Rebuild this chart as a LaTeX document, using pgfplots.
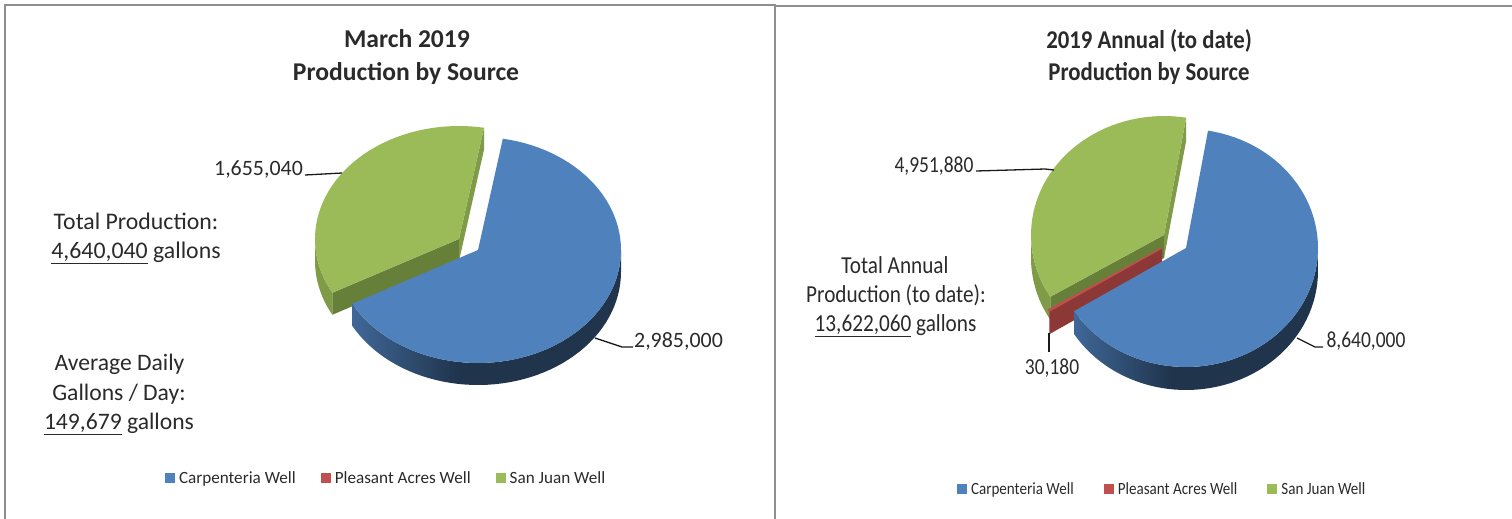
\documentclass[border=0pt]{standalone}
\usepackage{fontspec}
\setmainfont{Carlito}
\usepackage{pgfplots}
\usepackage{pgfplotstable}
\usepackage{graphicx}
\pgfplotsset{compat=1.18}

% Production per source, in thousands of gallons
\pgfplotstableread{
source        kgal
Carpenteria   2985.000
PleasantAcres 0.000
SanJuan       1655.040
}\marchvalues
\pgfplotstableread{
source        kgal
Carpenteria   8640.000
PleasantAcres 30.180
SanJuan       4951.880
}\annualvalues

\definecolor{carp}{HTML}{4F81BD}
\definecolor{pleasant}{HTML}{C0504D}
\definecolor{sanjuan}{HTML}{9BBB59}
\definecolor{sjdark}{HTML}{66803A}
\definecolor{sjside}{HTML}{7F9B47}
\definecolor{pldark}{HTML}{8C3836}
\definecolor{frameline}{HTML}{8E8E8E}
\definecolor{leader}{HTML}{1A1A1A}
\definecolor{textcol}{HTML}{2A2A2A}

% Rim of the blue wedge: lit at its left end, dark from about 40% of its width on
\pgfdeclarehorizontalshading{carprim}{100bp}{
  color(0bp)=(carp!80!black); color(25bp)=(carp!80!black);
  color(45bp)=(carp!40!black); color(100bp)=(carp!40!black)}

% Appends points of an elliptical arc: cx, cy, rx, ry, from, to
\newcommand{\appendarc}[6]{%
  \pgfmathsetmacro\nsteps{int(max(1,ceil(abs((#6)-(#5))/3)))}%
  \foreach \i in {0,...,\nsteps}{%
    \pgfmathsetmacro\ang{(#5)+((#6)-(#5))*(\i/\nsteps)}%
    \pgfmathsetmacro\px{#1+#3*cos(\ang)}%
    \pgfmathsetmacro\py{#2+#4*sin(\ang)}%
    \xdef\arclist{\arclist (\px,\py)}%
  }%
}
% Top face of a wedge: style, cx, cy, rx, ry, from, to
\newcommand{\pieface}[7]{%
  \gdef\arclist{(#2,#3)}%
  \appendarc{#2}{#3}{#4}{#5}{#6}{#7}%
  \edef\temp{\noexpand\addplot[forget plot,draw=none,#1] coordinates {\arclist} -- cycle;}\temp
}
% Outer rim of a wedge: style, cx, cy, depth, rx, ry, from, to
\newcommand{\pierim}[8]{%
  \gdef\arclist{}%
  \appendarc{#2}{#3}{#5}{#6}{#7}{#8}%
  \appendarc{#2}{#3+#4}{#5}{#6}{#8}{#7}%
  \edef\temp{\noexpand\addplot[forget plot,draw=none,#1] coordinates {\arclist} -- cycle;}\temp
}
% Cut face of a wedge at one angle: style, cx, cy, depth, rx, ry, angle
\newcommand{\piecut}[7]{%
  \gdef\arclist{(#2,#3)}%
  \appendarc{#2}{#3}{#5}{#6}{#7}{#7}%
  \appendarc{#2}{#3+#4}{#5}{#6}{#7}{#7}%
  \pgfmathsetmacro\cutbase{#3+#4}%
  \xdef\arclist{\arclist (#2,\cutbase)}%
  \edef\temp{\noexpand\addplot[forget plot,draw=none,#1] coordinates {\arclist} -- cycle;}\temp
}
% Text placed by its centre, with a horizontal condensing factor
\newcommand{\tx}[5]{\node[text=textcol,inner sep=0pt,anchor=center] at (axis cs:#1,#2)
  {\fontsize{#4}{#4}\selectfont\scalebox{#3}[1]{#5}};}

\pgfplotsset{
  swatch/.style={legend image code/.code={\path[draw=none,fill=#1] (0bp,-5bp) rectangle (10bp,5bp);}},
  panel/.style={
    hide axis, x=1bp, y=1bp, y dir=reverse, ymin=0, ymax=519, clip=false,
    legend columns=3,
    legend cell align=left,
    legend style={draw=none,fill=none,inner sep=0pt,outer sep=0pt,anchor=west,
      nodes={inner sep=0pt,outer sep=0pt,text=textcol}},
  },
  leaderline/.style={forget plot,leader,line width=1.3bp},
  frameedge/.style={forget plot,frameline,line width=2bp},
}

\begin{document}
\begin{tikzpicture}
  % Wedge angles follow the share of each source
  \pgfplotstablegetelem{0}{kgal}\of\marchvalues\let\mC\pgfplotsretval
  \pgfplotstablegetelem{2}{kgal}\of\marchvalues\let\mS\pgfplotsretval
  \pgfmathsetmacro\mstart{-80}
  \pgfmathsetmacro\mend{\mstart+360*(\mC/(\mC+\mS))}
  \pgfplotstablegetelem{0}{kgal}\of\annualvalues\let\aC\pgfplotsretval
  \pgfplotstablegetelem{1}{kgal}\of\annualvalues\let\aP\pgfplotsretval
  \pgfplotstablegetelem{2}{kgal}\of\annualvalues\let\aS\pgfplotsretval
  \pgfmathsetmacro\astart{-80.4}
  \pgfmathsetmacro\aTotal{\aC+\aP+\aS}
  \pgfmathsetmacro\aend{\astart+360*(\aC/\aTotal)}
  \pgfmathsetmacro\apl{\aend+360*(\aP/\aTotal)}

  % page extent
  \path[use as bounding box] (0,0) rectangle (1512bp,-519bp);

  \begin{axis}[panel, at={(0,0)}, anchor=north west, xmin=0, xmax=776,
      legend style={at={(axis cs:165,478)},
        /tikz/every odd column/.append style={column sep=4bp},
        /tikz/every even column/.append style={column sep=25bp}}]
    % panel frame
    \addplot[frameedge] coordinates {(5,519) (5,5) (775,5) (775,519)};

    % San Juan wedge, pulled away from the centre
    \pierim{fill=sjside}{459}{239}{22}{144}{113}{\mend}{180}
    \piecut{fill=sjdark}{459}{239}{22}{144}{113}{\mend}
    \piecut{fill=sjside}{459}{239}{22}{144}{113}{\mstart}
    \pieface{fill=sanjuan}{459}{239}{144}{113}{\mend}{\mstart+360}

    % Carpenteria wedge
    \pierim{shade,shading=carprim}{478}{250}{22}{143}{113}{0}{\mend}
    \pieface{fill=carp}{478}{250}{143}{113}{\mstart}{\mend}

    % leader lines
    \addplot[leaderline] coordinates {(305,175) (342,173)};
    \addplot[leaderline] coordinates {(595,338) (622,347) (633,347)};

    \addlegendimage{swatch=carp}
    \addlegendentry{\fontsize{17.2}{17.2}\selectfont Carpenteria Well}
    \addlegendimage{swatch=pleasant}
    \addlegendentry{\fontsize{17.2}{17.2}\selectfont Pleasant Acres Well}
    \addlegendimage{swatch=sanjuan}
    \addlegendentry{\fontsize{17.2}{17.2}\selectfont San Juan Well}

    \tx{407}{39}{1}{25.7}{\bfseries March 2019}
    \tx{406}{74}{1}{25.7}{\bfseries Production by Source}
    \tx{258.5}{169}{1}{22}{1,655,040}
    \tx{678.5}{341}{1}{22}{2,985,000}
    \tx{136}{221}{1}{23.9}{Total Production:}
    \tx{136}{253}{1}{23.9}{\underline{4,640,040} gallons}
    \tx{119.5}{364}{1}{23.7}{Average Daily}
    \tx{119}{394}{1}{23.7}{Gallons / Day:}
    \tx{119}{424}{1}{23.7}{\underline{149,679} gallons}
  \end{axis}

  \begin{axis}[panel, at={(776bp,0)}, anchor=north west, xmin=776, xmax=1512,
      legend style={at={(axis cs:957,489)},
        /tikz/every odd column/.append style={column sep=4bp},
        /tikz/every even column/.append style={column sep=30bp}}]
    % panel frame
    \addplot[frameedge] coordinates {(775,6) (1512,6)};

    % San Juan wedge
    \pierim{fill=sjside}{1164}{235}{23}{133}{119}{\apl}{180}
    \piecut{fill=sjdark}{1164}{235}{23}{133}{119}{\apl}
    \piecut{fill=sjside}{1164}{235}{23}{133}{119}{\astart}
    \pieface{fill=sanjuan}{1164}{235}{133}{119}{\apl}{\astart+360}

    % Pleasant Acres wedge, a sliver between the other two
    \piecut{fill=pldark}{1162}{248}{23}{133}{119}{\aend}
    \pieface{draw=pleasant,line width=1.2bp}{1162}{248}{133}{119}{\aend}{\apl}

    % Carpenteria wedge
    \pierim{shade,shading=carprim}{1186}{248}{23}{132}{119}{0}{\aend}
    \pieface{fill=carp}{1186}{248}{132}{119}{\astart}{\aend}

    % leader lines
    \addplot[leaderline] coordinates {(976,171) (1045,169) (1054,170)};
    \addplot[leaderline] coordinates {(1049,333) (1049,352)};
    \addplot[leaderline] coordinates {(1297,338) (1315,347) (1323,347)};

    \addlegendimage{swatch=carp}
    \addlegendentry{\fontsize{17.2}{17.2}\selectfont\scalebox{0.88}[1]{Carpenteria Well}}
    \addlegendimage{swatch=pleasant}
    \addlegendentry{\fontsize{17.2}{17.2}\selectfont\scalebox{0.88}[1]{Pleasant Acres Well}}
    \addlegendimage{swatch=sanjuan}
    \addlegendentry{\fontsize{17.2}{17.2}\selectfont\scalebox{0.88}[1]{San Juan Well}}

    \tx{1149}{41}{0.89}{25.7}{\bfseries 2019 Annual (to date)}
    \tx{1149}{74}{0.89}{25.7}{\bfseries Production by Source}
    \tx{934}{166}{0.85}{23}{4,951,880}
    \tx{1052}{368}{0.85}{23}{30,180}
    \tx{1366}{341}{0.85}{23}{8,640,000}
    \tx{895}{265}{0.87}{24.5}{Total Annual}
    \tx{896}{295}{0.87}{24.5}{Production (to date):}
    \tx{895.5}{326}{0.87}{24.5}{\underline{13,622,060} gallons}
  \end{axis}
\end{tikzpicture}
\end{document}
